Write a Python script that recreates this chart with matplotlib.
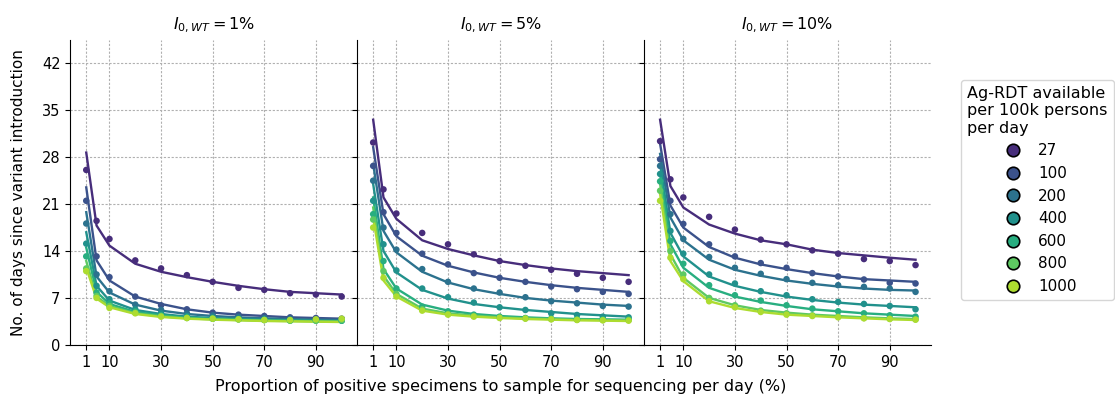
import numpy as np
import matplotlib
matplotlib.use("Agg")
import matplotlib.pyplot as plt
from matplotlib.lines import Line2D

############################################
# data

x_prop = [1, 5, 10, 20, 30, 40, 50, 60, 70, 80, 90, 100]
rdt_levels = ['27', '100', '200', '400', '600', '800', '1000']
panel_titles = [r'$I_{0,WT} = 1\%$', r'$I_{0,WT} = 5\%$', r'$I_{0,WT} = 10\%$']

# simulated points, I0 = 1%
dots_1 = [
    [26.1, 18.5, 15.8, 12.6, 11.4, 10.4, 9.4, 8.5, 8.2, 7.7, 7.5, 7.2],
    [21.5, 13.2, 10.1, 7.2, 5.9, 5.3, 4.8, 4.5, 4.3, 4.1, 4.0, 3.9],
    [18.1, 10.5, 8.0, 6.0, 5.2, 4.7, 4.4, 4.2, 4.0, 3.9, 3.8, 3.8],
    [15.1, 8.8, 6.8, 5.3, 4.7, 4.3, 4.1, 3.9, 3.8, 3.7, 3.7, 3.6],
    [13.2, 7.8, 6.2, 5.0, 4.4, 4.1, 3.9, 3.8, 3.7, 3.6, 3.6, 3.6],
    [11.4, 7.3, 5.8, 4.8, 4.3, 4.0, 3.9, 3.8, 3.7, 3.6, 3.6, 3.7],
    [11.0, 7.0, 5.5, 4.7, 4.2, 4.0, 3.9, 3.8, 3.7, 3.7, 3.8, 3.9],
]
# fitted curves, I0 = 1%
fits_1 = [
    [28.7, 17.8, 14.8, 12.1, 10.9, 10.1, 9.4, 8.8, 8.3, 7.9, 7.7, 7.5],
    [23.5, 12.6, 9.6, 7.2, 6.1, 5.3, 4.8, 4.5, 4.3, 4.1, 4.0, 3.9],
    [19.8, 10.2, 7.8, 6.0, 5.1, 4.6, 4.3, 4.1, 3.95, 3.85, 3.75, 3.7],
    [16.8, 8.8, 6.6, 5.2, 4.6, 4.2, 4.0, 3.85, 3.75, 3.65, 3.6, 3.55],
    [14.5, 7.9, 6.1, 4.9, 4.4, 4.05, 3.85, 3.75, 3.65, 3.6, 3.55, 3.5],
    [12.5, 7.2, 5.8, 4.7, 4.25, 3.95, 3.8, 3.7, 3.6, 3.55, 3.5, 3.45],
    [11.5, 6.9, 5.6, 4.6, 4.15, 3.9, 3.75, 3.65, 3.55, 3.5, 3.45, 3.4],
]

# I0 = 5%
dots_5 = [
    [30.2, 23.2, 19.6, 16.7, 15.0, 13.5, 12.5, 11.8, 11.2, 10.6, 10.0, 9.4],
    [26.7, 19.8, 16.7, 13.6, 12.0, 10.7, 10.0, 9.4, 8.7, 8.3, 7.9, 7.6],
    [24.5, 17.5, 14.2, 11.3, 9.4, 8.4, 7.8, 7.1, 6.5, 6.2, 5.8, 5.7],
    [21.5, 15.0, 11.1, 8.4, 7.1, 6.3, 5.6, 5.2, 4.7, 4.45, 4.2, 4.1],
    [19.5, 12.5, 8.4, 5.7, 5.0, 4.5, 4.2, 4.0, 3.9, 3.8, 3.8, 3.8],
    [18.7, 11.0, 7.6, 5.3, 4.6, 4.3, 4.1, 3.95, 3.85, 3.75, 3.7, 3.7],
    [17.5, 10.0, 7.2, 5.1, 4.5, 4.2, 4.0, 3.9, 3.8, 3.7, 3.65, 3.6],
]
fits_5 = [
    [33.6, 22.0, 18.8, 15.6, 14.3, 13.35, 12.5, 11.9, 11.4, 11.0, 10.7, 10.4],
    [29.5, 19.5, 16.2, 13.3, 11.8, 10.8, 10.0, 9.4, 8.9, 8.5, 8.2, 7.9],
    [27.0, 17.0, 13.8, 10.9, 9.3, 8.3, 7.6, 7.0, 6.6, 6.3, 6.0, 5.8],
    [24.0, 14.0, 10.8, 8.2, 6.9, 6.1, 5.6, 5.2, 4.9, 4.6, 4.4, 4.2],
    [22.0, 11.3, 8.4, 6.0, 5.1, 4.6, 4.3, 4.1, 3.95, 3.85, 3.8, 3.75],
    [20.5, 10.3, 7.6, 5.4, 4.7, 4.35, 4.1, 3.95, 3.85, 3.75, 3.7, 3.65],
    [19.0, 9.6, 7.2, 5.1, 4.5, 4.2, 4.0, 3.85, 3.75, 3.65, 3.6, 3.55],
]

# I0 = 10%
dots_10 = [
    [30.4, 24.7, 22.0, 19.1, 17.2, 15.7, 15.0, 14.1, 13.6, 12.8, 12.5, 11.9],
    [27.7, 21.5, 18.05, 15.0, 13.2, 12.2, 11.5, 10.7, 10.2, 9.75, 9.25, 9.15],
    [26.7, 19.5, 15.8, 13.1, 11.5, 10.6, 9.8, 9.25, 8.9, 8.65, 8.4, 7.9],
    [25.5, 17.0, 13.6, 10.5, 9.15, 8.0, 7.4, 6.8, 6.4, 6.1, 5.8, 5.3],
    [24.4, 15.5, 12.1, 8.9, 7.4, 6.6, 5.9, 5.4, 5.0, 4.7, 4.4, 4.2],
    [23.0, 14.0, 10.5, 7.0, 5.9, 5.1, 4.7, 4.4, 4.2, 4.0, 3.9, 3.8],
    [21.5, 13.0, 9.8, 6.5, 5.6, 4.9, 4.5, 4.3, 4.1, 3.95, 3.85, 3.75],
]
fits_10 = [
    [33.6, 23.7, 20.5, 17.95, 16.6, 15.6, 15.0, 14.2, 13.7, 13.35, 13.0, 12.7],
    [30.0, 20.8, 17.5, 14.6, 13.0, 12.0, 11.3, 10.7, 10.2, 9.8, 9.6, 9.4],
    [28.5, 19.0, 15.6, 12.7, 11.2, 10.3, 9.6, 9.1, 8.7, 8.4, 8.2, 8.1],
    [27.0, 16.7, 13.2, 10.2, 8.8, 7.9, 7.2, 6.7, 6.3, 6.0, 5.8, 5.6],
    [25.5, 15.0, 11.5, 8.5, 7.2, 6.4, 5.8, 5.3, 5.0, 4.7, 4.5, 4.3],
    [24.0, 13.5, 10.0, 7.0, 5.9, 5.2, 4.8, 4.5, 4.3, 4.1, 3.95, 3.85],
    [22.5, 12.5, 9.5, 6.5, 5.5, 4.9, 4.5, 4.3, 4.1, 3.95, 3.8, 3.7],
]

all_dots = [dots_1, dots_5, dots_10]
all_fits = [fits_1, fits_5, fits_10]

colors = plt.cm.viridis(np.linspace(0, 1, 9)[1:-1])

#############################################
## Plotting Data
plt.rcParams['font.family'] = 'DejaVu Sans'
fig, axes = plt.subplots(1, 3, figsize=(11.15, 4.0), dpi=100, sharey=True)
fig.subplots_adjust(left=0.063, right=0.835, top=0.90, bottom=0.138, wspace=0)

for ax, dots, fits, title in zip(axes, all_dots, all_fits, panel_titles):
    ax.grid(True, color='#b0b0b0', linestyle=(0, (2, 1.5)), linewidth=0.8)
    ax.set_axisbelow(True)
    for k in range(len(rdt_levels)):
        ax.plot(x_prop, fits[k], color=colors[k], lw=1.7, zorder=2)
        ax.scatter(x_prop, dots[k], color=colors[k], s=22, zorder=3,
                   edgecolors='none')
    ax.set_title(title, fontsize=11.5, pad=8)
    ax.set_xlim(-5.2, 106)
    ax.set_ylim(0, 45.5)
    ax.set_xticks([1, 10, 30, 50, 70, 90])
    ax.set_yticks([0, 7, 14, 21, 28, 35, 42])
    ax.tick_params(labelsize=10.5)
    ax.spines['top'].set_visible(False)
    ax.spines['right'].set_visible(False)

axes[0].set_ylabel("No. of days since variant introduction", fontsize=11)
axes[0].yaxis.set_label_coords(-0.155, 0.5)
fig.supxlabel("Proportion of positive specimens to sample for sequencing per day (%)",
              fontsize=11.5, x=0.449, y=0.015)

handles = [Line2D([], [], ls='none', marker='o', markersize=9,
                  markerfacecolor=c, markeredgecolor='black', markeredgewidth=1.2)
           for c in colors]
leg = fig.legend(handles, rdt_levels, loc='center left', bbox_to_anchor=(0.855, 0.525),
                 title="Ag-RDT available\nper 100k persons\nper day",
                 fontsize=11, title_fontsize=11.5, frameon=True,
                 handletextpad=0.6, labelspacing=0.5)
leg.get_title().set_multialignment('left')

fig.savefig("out.png", dpi=100)
